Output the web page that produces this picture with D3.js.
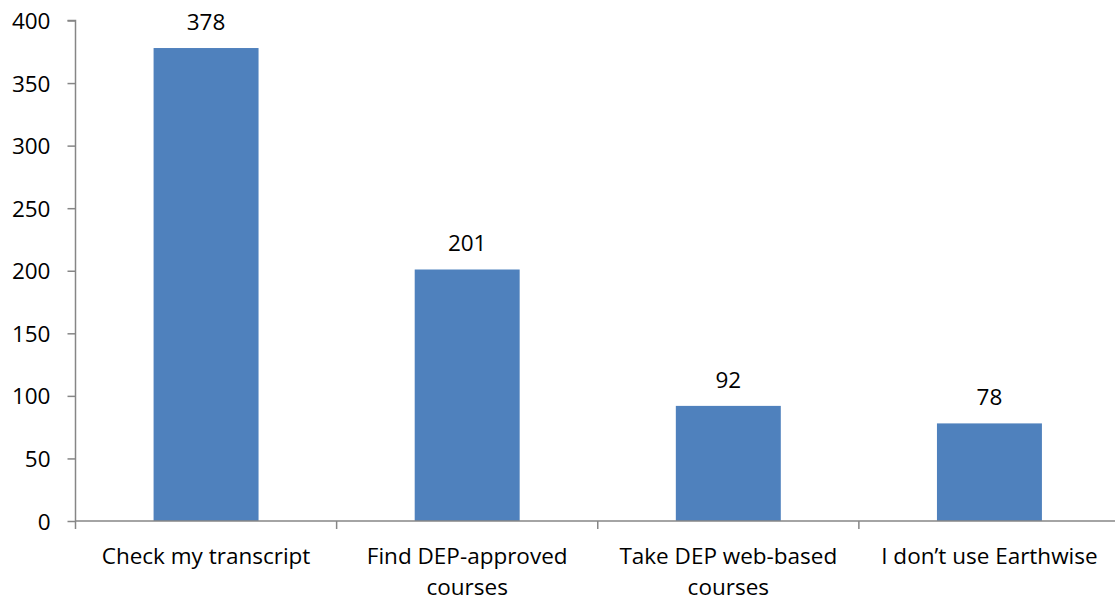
<!DOCTYPE html>
<html>
<head>
<meta charset="utf-8">
<script src="https://cdn.jsdelivr.net/npm/d3@7"></script>
<style>
  body { margin: 0; background: #fff; }
  text { font-family: "Open Sans", sans-serif; fill: #000; }
</style>
</head>
<body>
<div id="chart"></div>
<script>
// chart data
var categories = [
  "Check my transcript",
  "Find DEP-approved courses",
  "Take DEP web-based courses",
  "I don\u2019t use Earthwise"
];
var counts = [378, 201, 92, 78];
var yTicks = [0, 50, 100, 150, 200, 250, 300, 350, 400];

var svgWidth = 1115;
var svgHeight = 602;

// plot runs a little past the right edge, as in the original crop
var margin = { top: 20.5, right: -5, bottom: 81, left: 75.5 };
var width = svgWidth - margin.left - margin.right;
var height = svgHeight - margin.top - margin.bottom;

var svg = d3
  .select("#chart")
  .append("svg")
  .attr("width", svgWidth)
  .attr("height", svgHeight);

var chartGroup = svg
  .append("g")
  .attr("transform", `translate(${margin.left}, ${margin.top})`);

var xScale = d3.scaleBand().domain(categories).range([0, width]).padding(0);
var yScale = d3.scaleLinear().domain([0, 400]).range([height, 0]);

var axisColor = "#868686";
var fontSize = "22.5px";

// bars
var barWidth = xScale.bandwidth() * 0.402;
chartGroup
  .selectAll("rect.bar")
  .data(categories)
  .enter()
  .append("rect")
  .attr("class", "bar")
  .attr("x", (d) => xScale(d) + xScale.bandwidth() / 2 - barWidth / 2)
  .attr("y", (d, i) => yScale(counts[i]))
  .attr("width", barWidth)
  .attr("height", (d, i) => height - yScale(counts[i]))
  .attr("fill", "#4F81BD");

// value labels
chartGroup
  .selectAll("text.value")
  .data(categories)
  .enter()
  .append("text")
  .attr("class", "value")
  .attr("x", (d) => xScale(d) + xScale.bandwidth() / 2)
  .attr("y", (d, i) => yScale(counts[i]) - 18)
  .attr("text-anchor", "middle")
  .style("font-size", fontSize)
  .text((d, i) => counts[i]);

// y axis
var leftAxis = d3.axisLeft(yScale).tickValues(yTicks).tickSize(8).tickPadding(17);
var yAxis = chartGroup.append("g").call(leftAxis);
yAxis.select(".domain").attr("stroke", axisColor).attr("stroke-width", 1.5).attr("d", `M-8,0H0V${height}`);
yAxis.selectAll(".tick line").attr("stroke", axisColor).attr("stroke-width", 1.5);
yAxis.selectAll(".tick text").style("font-size", fontSize).attr("dy", "0.36em");

// x axis: ticks on band boundaries
var xAxis = chartGroup.append("g").attr("transform", `translate(0, ${height})`);
xAxis
  .append("line")
  .attr("x1", 0)
  .attr("x2", width)
  .attr("stroke", axisColor)
  .attr("stroke-width", 1.5);
var boundaries = categories.map((d) => xScale(d)).concat([width]);
xAxis
  .selectAll("line.tick")
  .data(boundaries)
  .enter()
  .append("line")
  .attr("class", "tick")
  .attr("x1", (d) => d)
  .attr("x2", (d) => d)
  .attr("y1", 0)
  .attr("y2", 8)
  .attr("stroke", axisColor)
  .attr("stroke-width", 1.5);

// category labels, wrapped like the original
var labels = xAxis
  .selectAll("text.cat")
  .data(categories)
  .enter()
  .append("text")
  .attr("class", "cat")
  .attr("text-anchor", "middle")
  .attr("x", (d) => xScale(d) + xScale.bandwidth() / 2)
  .attr("y", 43)
  .style("font-size", fontSize);

labels.each(function (d) {
  var el = d3.select(this);
  var words = d.split(" ");
  var line = [];
  var cx = xScale(d) + xScale.bandwidth() / 2;
  var tspan = el.append("tspan").attr("x", cx).attr("dy", 0);
  words.forEach(function (w) {
    line.push(w);
    tspan.text(line.join(" "));
    if (tspan.node().getComputedTextLength() > xScale.bandwidth() - 14 && line.length > 1) {
      line.pop();
      tspan.text(line.join(" "));
      line = [w];
      tspan = el.append("tspan").attr("x", cx).attr("dy", 31).text(w);
    }
  });
});
</script>
</body>
</html>
